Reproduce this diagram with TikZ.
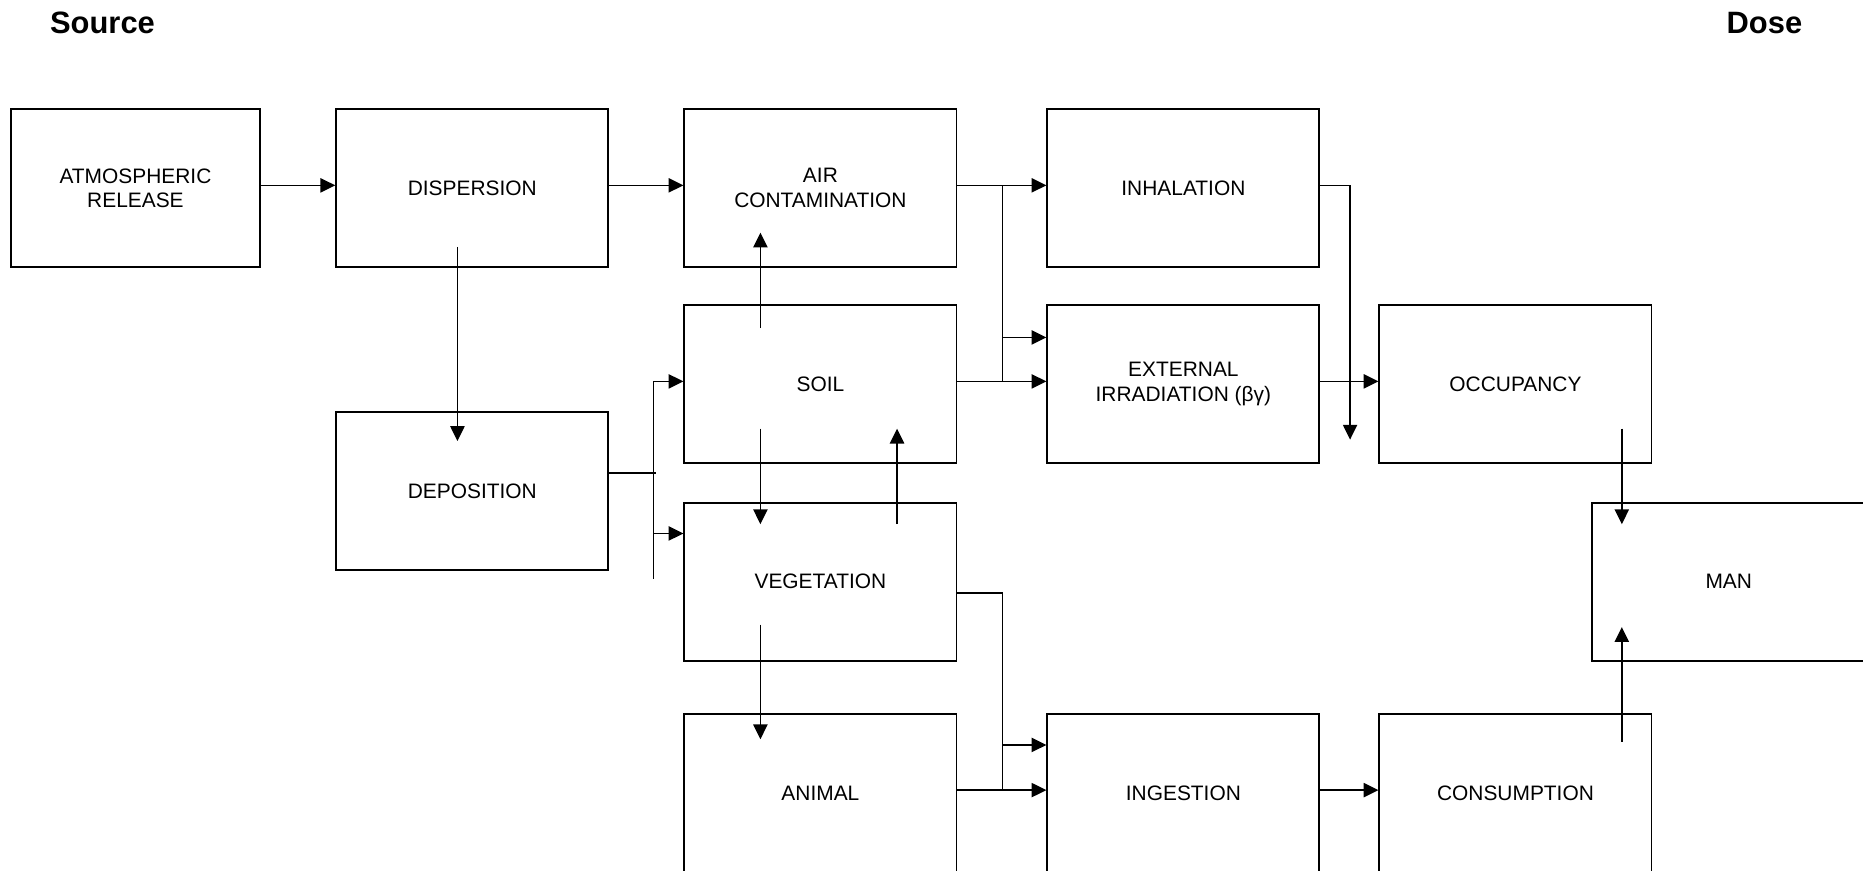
\documentclass[tikz,border=0pt]{standalone}
\usepackage{fontspec}
\setmainfont{Liberation Sans}
\usetikzlibrary{arrows.meta}

\begin{document}
\begin{tikzpicture}[x=1pt,y=1pt,
        blk/.style={draw, line width=1.6pt, minimum width=229, minimum height=133,
            inner sep=0pt, align=center, font=\fontsize{17.6}{21}\selectfont},
        lnk/.style={line width=1.3pt},
        arr/.style={lnk, -{Triangle[length=12.5pt,width=12pt]}},
        hdr/.style={font=\fontsize{26}{30}\selectfont\bfseries, inner sep=0pt}]
    \useasboundingbox (0,0) rectangle (1568,-733);
    \clip (0,0) rectangle (1568,-733);

    \node[hdr, anchor=base west] (src) at (42,-28.6) {Source};
    \node[hdr, anchor=base east] (dose) at (1517,-28.6) {Dose};

    % boxes
    \node[blk, minimum width=210] (atm) at (114,-158.5) {ATMOSPHERIC\\RELEASE};
    \foreach \n/\x/\y/\t in {disp/397.5/158.5/DISPERSION,
                             air/690.5/158.5/{AIR\\CONTAMINATION},
                             inh/996/158.5/INHALATION,
                             soil/690.5/323.5/SOIL,
                             ext/996/323.5/{EXTERNAL\\IRRADIATION (βγ)},
                             occ/1275.5/323.5/OCCUPANCY,
                             dep/397.5/413.5/DEPOSITION,
                             veg/690.5/489.5/VEGETATION,
                             ani/690.5/667.5/ANIMAL,
                             ing/996/667.5/INGESTION,
                             con/1275.5/667.5/CONSUMPTION}
        \node[blk] (\n) at (\x,-\y) {\t};
    \node[blk, minimum width=230] (man) at (1455,-489.5) {MAN};

    % straight links along a row
    \foreach \a/\b in {atm/disp, disp/air, air/inh, soil/ext, ext/occ, ani/ing, ing/con}
        \draw[arr] ([yshift=2.5]\a.east) -- ([yshift=2.5]\b.west);

    % vertical links
    \draw[arr] ([xshift=-12.5,yshift=18]disp.south) -- ([xshift=-12.5,yshift=-25]dep.north);
    \draw[arr] ([xshift=-50.5,yshift=-20]soil.north) -- ([xshift=-50.5,yshift=30]air.south);
    \draw[arr] ([xshift=-50.5,yshift=30]soil.south) -- ([xshift=-50.5,yshift=-19]veg.north);
    \draw[arr] ([xshift=64.5,yshift=-19]veg.north) -- ([xshift=64.5,yshift=30]soil.south);
    \draw[arr] ([xshift=-50.5,yshift=31]veg.south) -- ([xshift=-50.5,yshift=-22]ani.north);
    \draw[arr] ([xshift=89.5,yshift=30]occ.south) -- ([xshift=-90,yshift=-19]man.north);
    \draw[arr] ([xshift=89.5,yshift=-24]con.north) -- ([xshift=-90,yshift=29]man.south);

    % deposition to soil and vegetation
    \draw[lnk] ([yshift=15.5]dep.east) -- ([xshift=39,yshift=15.5]dep.east);
    \draw[lnk] ([xshift=-25,yshift=2.5]soil.west) -- ([xshift=-25,yshift=2]veg.west);
    \draw[arr] ([xshift=-25,yshift=2.5]soil.west) -- ([yshift=2.5]soil.west);
    \draw[arr] ([xshift=-25,yshift=40.5]veg.west) -- ([yshift=40.5]veg.west);

    % air to external
    \draw[lnk] ([xshift=38,yshift=2.5]air.east) -- ([xshift=38,yshift=2.5]soil.east);
    \draw[arr] ([xshift=38,yshift=39.5]soil.east) -- ([yshift=39.5]ext.west);

    % vegetation to ingestion
    \draw[lnk] ([yshift=-9.5]veg.east) -| ([xshift=38,yshift=2.5]ani.east);
    \draw[arr] ([xshift=38,yshift=40.5]ani.east) -- ([yshift=40.5]ing.west);

    % inhalation downwards
    \coordinate (inhout) at ([xshift=25,yshift=-211.5]inh.east);
    \draw[arr] ([yshift=2.5]inh.east) -| (inhout);
\end{tikzpicture}
\end{document}
